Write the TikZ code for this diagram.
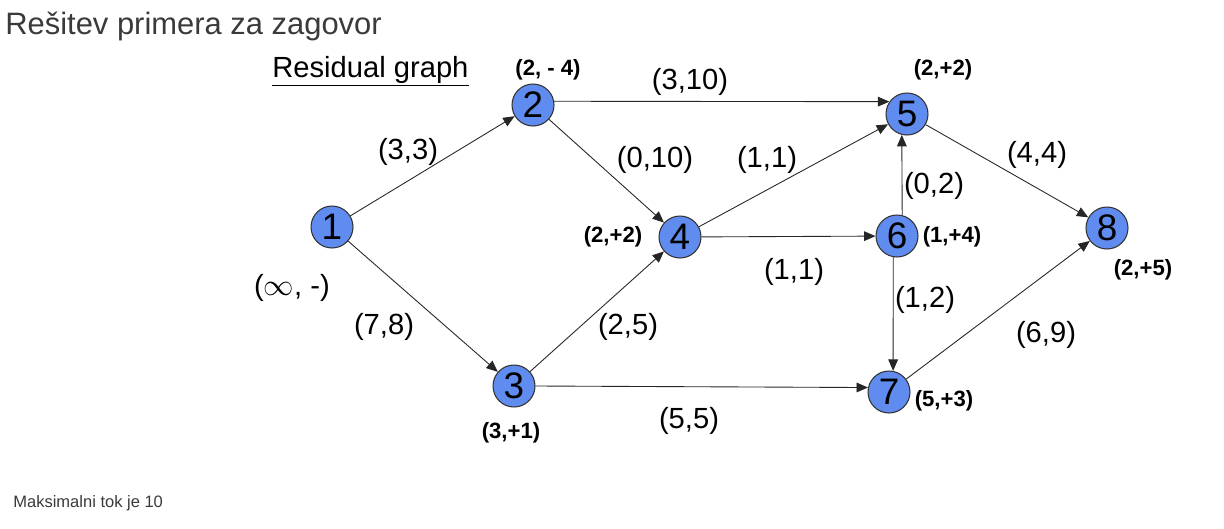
\documentclass[tikz,border=0pt]{standalone}
\usepackage{fontspec}
\setmainfont{Liberation Sans}
\usetikzlibrary{arrows.meta}
\definecolor{nodeblue}{RGB}{96,140,240}
\definecolor{titlegrey}{RGB}{58,58,58}
\tikzset{
  vert/.style={circle,draw=black!80,line width=0.6pt,fill=nodeblue,minimum size=0.84cm,inner sep=0pt,font=\fontsize{21}{21}\selectfont},
  edge/.style={draw=black!85,line width=0.5pt,-{Triangle[length=6.5pt,width=5.5pt]}},
  lab/.style={font=\fontsize{16.6}{16.6}\selectfont,inner sep=0pt},
  blab/.style={font=\fontsize{12.6}{12.6}\selectfont\bfseries,inner sep=0pt}
}
\begin{document}
\begin{tikzpicture}[x=0.02cm,y=-0.02cm]
\useasboundingbox (0,0) rectangle (1224,528);
\node[anchor=base west,inner sep=0pt,text=titlegrey,font=\fontsize{17.6}{17.6}\selectfont] (title) at (5,34) {Rešitev primera za zagovor};
\node[anchor=base west,inner sep=0pt,text=titlegrey,font=\fontsize{9.4}{9.4}\selectfont] (foot) at (13,507) {Maksimalni tok je 10};
\node[anchor=base west,inner sep=0pt,font=\fontsize{16.6}{16.6}\selectfont] (rg) at (272,77) {\underline{Residual graph}};

\node[vert] (n1) at (332,227) {1};
\node[vert] (n2) at (533,105) {2};
\node[vert] (n3) at (514,386) {3};
\node[vert] (n4) at (680,237) {4};
\node[vert] (n5) at (907,114) {5};
\node[vert] (n6) at (897,236) {6};
\node[vert] (n7) at (889,392) {7};
\node[vert] (n8) at (1107,228) {8};

\draw[edge] (n1) -- (n2);
\draw[edge] (n1) -- (n3);
\draw[edge] (n2.10) -- (n5.145);
\draw[edge] (n2) -- (n4);
\draw[edge] (n3) -- (n4);
\draw[edge] (n3.east) -- (n7.168);
\draw[edge] (n4) -- (n5);
\draw[edge] (n4) -- (n6);
\draw[edge] (n6.76) -- (n5.256);
\draw[edge] (n6.260) -- (n7.79);
\draw[edge] (n5) -- (n8);
\draw[edge] (n7) -- (n8);

\node[lab] (l25) at (690,82) {(3,10)};
\node[lab] (l12) at (408,152) {(3,3)};
\node[lab] (l24) at (655,160) {(0,10)};
\node[lab] (l45) at (767,160) {(1,1)};
\node[lab] (l65) at (934,186) {(0,2)};
\node[lab] (l58) at (1037,155) {(4,4)};
\node[lab] (l46) at (794,272) {(1,1)};
\node[lab] (l67) at (925,300) {(1,2)};
\node[lab] (l13) at (384,327) {(7,8)};
\node[lab] (l34) at (628,327) {(2,5)};
\node[lab] (l78) at (1046,335) {(6,9)};
\node[lab] (l37) at (689,421) {(5,5)};
\node[lab] (s1) at (292,288) {($\infty$, -)};

\node[blab] (s2) at (548,70) {(2, - 4)};
\node[blab] (s5) at (943,70) {(2,+2)};
\node[blab] (s4) at (613,237) {(2,+2)};
\node[blab] (s6) at (952,237) {(1,+4)};
\node[blab] (s8) at (1143,270) {(2,+5)};
\node[blab] (s7) at (944,401) {(5,+3)};
\node[blab] (s3) at (511,433) {(3,+1)};
\end{tikzpicture}
\end{document}
